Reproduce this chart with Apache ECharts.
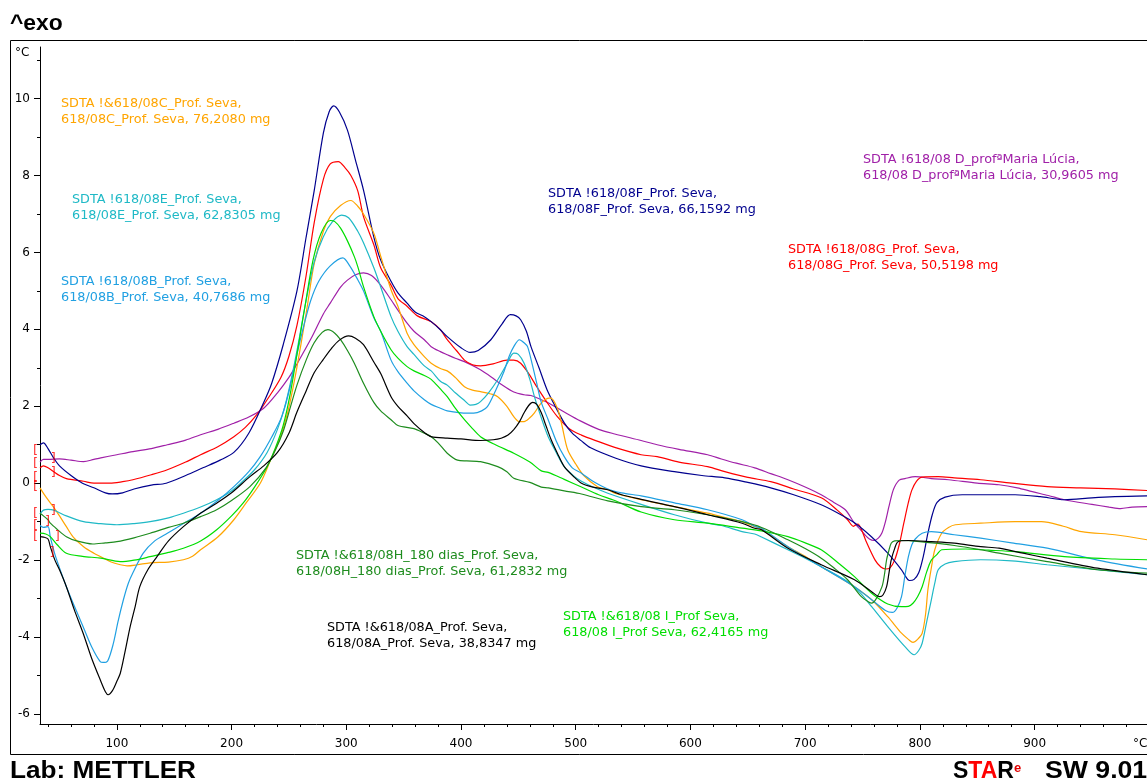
<!DOCTYPE html>
<html><head><meta charset="utf-8">
<script src="https://cdn.jsdelivr.net/npm/echarts@6/dist/echarts.min.js"></script>
<style>html,body{margin:0;padding:0;background:#fff;}#c{width:1147px;height:782px;}</style>
</head><body><div id="c"></div>
<script>
// ---- tick values ----
const xMajorTicks = [100, 200, 300, 400, 500, 600, 700, 800, 900];
const xMinorTicks = [40, 60, 80, 120, 140, 160, 180, 220, 240, 260, 280, 320, 340, 360, 380, 420, 440, 460, 480, 520, 540, 560, 580, 620, 640, 660, 680, 720, 740, 760, 780, 820, 840, 860, 880, 920, 940, 960, 980];
const yMajorTicks = [-6, -4, -2, 0, 2, 4, 6, 8, 10];
const yMinorTicks = [-5, -3, -1, 1, 3, 5, 7, 9, 11];

// ---- curves: [temperature °C, signal °C] ----
const curveF = [[33,1.0],[36,1.05],[40,0.9],[45,0.65],[50,0.45],[60,0.2],[70,0.0],[80,-0.12],[90,-0.25],[96,-0.28],[105,-0.25],[115,-0.15],[130,-0.05],[143,0.0],[160,0.2],[175,0.4],[190,0.6],[202,0.8],[215,1.3],[228,2.1],[235,2.6],[245,3.6],[257,5.0],[265,6.4],[272,7.6],[280,9.1],[285,9.65],[289,9.81],[294,9.65],[301,9.18],[308,8.4],[315,7.62],[324,6.4],[330,5.8],[339,5.25],[345,4.95],[353,4.68],[360,4.45],[368,4.33],[374,4.2],[382,3.99],[388,3.81],[400,3.52],[408,3.40],[415,3.45],[426,3.73],[436,4.15],[443,4.38],[448,4.35],[452,4.25],[457,3.95],[461,3.55],[468,3.0],[475,2.43],[483,1.95],[490,1.57],[497,1.3],[505,1.1],[513,0.92],[535,0.65],[557,0.45],[586,0.30],[610,0.2],[630,0.14],[650,0.02],[670,-0.12],[690,-0.3],[714,-0.56],[730,-0.8],[743,-1.03],[758,-1.4],[772,-1.82],[784,-2.25],[791,-2.53],[795,-2.5],[799,-2.33],[803,-1.9],[807,-1.3],[811,-0.8],[815,-0.5],[822,-0.36],[837,-0.30],[860,-0.3],[883,-0.3],[905,-0.35],[926,-0.43],[950,-0.38],[970,-0.35],[998,-0.33]];
const curveG = [[33,0.4],[36,0.45],[40,0.4],[45,0.3],[50,0.2],[56,0.12],[71,0.05],[80,0.0],[94,0.0],[105,0.04],[114,0.09],[130,0.22],[144,0.35],[160,0.55],[173,0.74],[188,0.95],[202,1.21],[212,1.45],[222,1.78],[231,2.17],[243,2.75],[250,3.3],[257,4.1],[265,5.4],[272,6.77],[280,7.9],[286,8.3],[293,8.36],[299,8.2],[304,8.0],[310,7.6],[315,6.93],[324,6.2],[330,5.6],[339,5.15],[345,4.8],[353,4.6],[362,4.35],[374,4.2],[382,3.99],[388,3.73],[396,3.45],[403,3.2],[410,3.08],[417,3.05],[428,3.1],[440,3.2],[446,3.2],[452,3.12],[459,2.85],[466,2.51],[475,2.1],[484,1.73],[495,1.4],[505,1.25],[520,1.08],[534,0.93],[557,0.74],[571,0.69],[590,0.55],[615,0.43],[630,0.3],[650,0.15],[670,0.04],[690,-0.15],[714,-0.38],[728,-0.7],[737,-0.95],[742,-1.12],[746,-1.06],[749,-1.2],[753,-1.5],[761,-2.0],[766,-2.18],[770,-2.23],[774,-2.2],[778,-2.0],[782,-1.6],[786,-1.04],[790,-0.5],[793,-0.18],[797,0.05],[802,0.16],[816,0.17],[830,0.14],[853,0.09],[880,0.0],[911,-0.09],[940,-0.12],[970,-0.15],[998,-0.19]];
const curveD = [[33,0.55],[36,0.62],[40,0.62],[50,0.63],[60,0.6],[71,0.56],[80,0.62],[86,0.66],[100,0.74],[114,0.82],[130,0.9],[144,1.0],[160,1.12],[173,1.26],[188,1.4],[202,1.56],[215,1.72],[228,1.95],[240,2.35],[250,2.75],[257,3.1],[270,3.8],[280,4.4],[286,4.68],[295,5.1],[301,5.28],[308,5.42],[315,5.47],[322,5.4],[330,5.15],[339,4.77],[345,4.5],[353,4.16],[359,3.95],[368,3.73],[374,3.55],[382,3.42],[388,3.34],[395,3.25],[403,3.16],[415,2.98],[426,2.77],[436,2.55],[446,2.37],[455,2.3],[461,2.28],[470,2.17],[476,2.09],[490,1.85],[504,1.62],[520,1.4],[534,1.28],[557,1.11],[571,1.0],[590,0.88],[615,0.74],[627,0.63],[640,0.52],[656,0.4],[670,0.25],[685,0.09],[700,-0.1],[714,-0.30],[725,-0.5],[735,-0.69],[743,-1.04],[748,-1.2],[752,-1.34],[756,-1.45],[760,-1.49],[764,-1.42],[767,-1.29],[770,-1.0],[773,-0.61],[776,-0.25],[778,-0.09],[782,0.08],[787,0.12],[796,0.17],[810,0.12],[825,0.09],[850,0.0],[869,-0.04],[885,-0.12],[898,-0.22],[912,-0.32],[926,-0.43],[950,-0.55],[965,-0.62],[975,-0.66],[985,-0.62],[998,-0.61]];
const curveC = [[33,-0.12],[38,-0.35],[44.5,-0.61],[50,-0.85],[56,-1.13],[62,-1.4],[71,-1.65],[80,-1.82],[86,-1.91],[95,-2.05],[103,-2.12],[109,-2.15],[118,-2.12],[129,-2.07],[145,-2.05],[158,-1.99],[166,-1.9],[173,-1.73],[188,-1.4],[202,-0.95],[213,-0.5],[225,0.0],[234,0.6],[242,1.15],[249,1.85],[255,2.7],[261,3.7],[266,4.6],[272,5.7],[280,6.55],[286,6.93],[295,7.22],[304,7.35],[310,7.2],[315,7.0],[324,6.5],[330,5.9],[339,5.03],[345,4.6],[353,3.9],[359,3.6],[368,3.29],[374,3.12],[382,2.98],[388,2.92],[395,2.75],[403,2.51],[410,2.42],[417,2.38],[426,2.32],[432,2.25],[440,2.0],[446,1.73],[451,1.6],[455,1.6],[460,1.7],[464,1.83],[469,2.05],[473,2.17],[478,2.22],[484,1.95],[488,1.5],[493,0.87],[500,0.5],[507,0.2],[519,-0.09],[528,-0.17],[534,-0.26],[557,-0.43],[586,-0.61],[615,-0.78],[627,-0.87],[645,-1.0],[656,-1.13],[662,-1.2],[685,-1.65],[700,-1.9],[714,-2.17],[730,-2.45],[743,-2.69],[758,-3.03],[772,-3.47],[784,-3.9],[790,-4.06],[794,-4.14],[798,-4.06],[802,-3.9],[805,-3.4],[807,-2.77],[810,-2.2],[813,-1.73],[819,-1.3],[825,-1.15],[831,-1.08],[853,-1.04],[883,-1.0],[906,-1.0],[925,-1.12],[941,-1.26],[970,-1.34],[998,-1.47]];
const curveE = [[33,-0.8],[36,-0.7],[40,-0.68],[45,-0.7],[56,-0.85],[71,-1.0],[85,-1.05],[100,-1.08],[115,-1.05],[129,-1.0],[145,-0.9],[158,-0.78],[173,-0.62],[187,-0.43],[200,-0.2],[208,0.0],[220,0.35],[231,0.8],[240,1.4],[246,1.95],[252,2.7],[258,3.6],[264,4.6],[272,5.75],[280,6.41],[288,6.8],[296,6.97],[302,6.9],[310,6.55],[315,6.25],[324,5.6],[330,5.1],[339,4.33],[345,3.95],[353,3.55],[359,3.35],[368,3.05],[374,2.92],[382,2.65],[388,2.55],[395,2.35],[403,2.15],[408,2.03],[413,2.05],[417,2.12],[424,2.35],[432,2.69],[440,3.1],[446,3.38],[450,3.35],[455,3.12],[460,2.7],[464,2.25],[470,1.7],[476,1.21],[483,0.8],[490,0.43],[499,0.17],[505,0.05],[515,-0.1],[528,-0.26],[557,-0.55],[586,-0.82],[615,-1.04],[627,-1.1],[645,-1.26],[656,-1.32],[662,-1.4],[685,-1.73],[700,-1.95],[714,-2.17],[737,-2.56],[748,-2.85],[758,-3.21],[772,-3.73],[787,-4.25],[795,-4.46],[799,-4.35],[802,-4.16],[806,-3.6],[810,-3.03],[813,-2.6],[816,-2.25],[822,-2.1],[830,-2.04],[853,-1.99],[880,-2.02],[911,-2.12],[955,-2.25],[998,-2.38]];
const curveB = [[33,-1.1],[36,-1.15],[40,-1.13],[42,-1.4],[46,-1.85],[50,-2.2],[56,-2.69],[63,-3.2],[70.6,-3.73],[78,-4.25],[85.5,-4.64],[88,-4.66],[92,-4.62],[97,-4.16],[101,-3.6],[105.7,-3.03],[110,-2.6],[114,-2.33],[123,-1.82],[133,-1.5],[144,-1.3],[158,-1.05],[173,-0.78],[188,-0.45],[202,-0.09],[215,0.3],[225,0.69],[235,1.2],[244,1.75],[251,2.5],[257,3.35],[263,4.1],[269,4.75],[276,5.25],[286,5.65],[297,5.86],[303,5.65],[310,5.29],[315,5.0],[324,4.3],[330,3.95],[339,3.2],[345,2.9],[353,2.6],[359,2.4],[368,2.17],[374,2.05],[382,1.95],[388,1.88],[400,1.83],[411,1.82],[418,1.88],[423,1.99],[430,2.4],[437,2.87],[442,3.3],[446,3.55],[451,3.73],[455,3.65],[458,3.55],[462,3.1],[466,2.6],[470,2.1],[476,1.65],[483,1.1],[490,0.69],[497,0.4],[505,0.26],[515,0.05],[528,-0.15],[540,-0.25],[557,-0.33],[586,-0.51],[615,-0.69],[645,-0.95],[656,-1.12],[662,-1.17],[685,-1.65],[714,-2.17],[743,-2.69],[758,-3.03],[770,-3.31],[776,-3.36],[780,-3.25],[784,-2.95],[787,-2.4],[790,-1.91],[793,-1.6],[796,-1.45],[802,-1.3],[810,-1.26],[830,-1.34],[853,-1.43],[880,-1.55],[911,-1.69],[955,-2.0],[998,-2.23]];
const curveA = [[33,-1.39],[36,-1.4],[40,-1.45],[42,-1.65],[46,-2.0],[50,-2.25],[56,-2.69],[63,-3.3],[70.6,-3.9],[78,-4.55],[85.5,-5.11],[90,-5.42],[92.5,-5.5],[96,-5.4],[100,-5.15],[103,-4.94],[107,-4.4],[111.6,-3.73],[116,-3.2],[120,-2.69],[127,-2.25],[135,-1.91],[145,-1.5],[158,-1.13],[172,-0.8],[187,-0.52],[200,-0.25],[216,0.17],[228,0.45],[240,0.8],[250,1.3],[257,1.85],[265,2.4],[272,2.87],[280,3.22],[287,3.5],[294,3.72],[302,3.83],[308,3.77],[315,3.6],[324,3.15],[330,2.85],[339,2.25],[345,2.0],[353,1.75],[359,1.55],[368,1.32],[374,1.21],[388,1.17],[400,1.15],[417,1.11],[428,1.13],[435,1.17],[441,1.25],[446,1.39],[451,1.6],[455,1.83],[459,2.02],[462.5,2.1],[466,2.05],[470,1.83],[474,1.5],[478.6,1.13],[484,0.78],[490,0.43],[499,0.15],[505,0.0],[515,-0.1],[528,-0.17],[540,-0.3],[557,-0.42],[586,-0.61],[615,-0.82],[645,-1.04],[656,-1.17],[662,-1.21],[685,-1.69],[714,-2.12],[743,-2.51],[758,-2.82],[765,-2.95],[768,-2.9],[771,-2.69],[773,-2.35],[775,-2.0],[778,-1.7],[781,-1.52],[790,-1.49],[810,-1.52],[830,-1.56],[853,-1.65],[869,-1.69],[890,-1.82],[911,-1.95],[955,-2.21],[998,-2.38]];
const curveH = [[33,-0.78],[36,-0.85],[40,-0.95],[42,-1.04],[48,-1.2],[56,-1.39],[65,-1.5],[79,-1.58],[90,-1.55],[100,-1.52],[115,-1.42],[129,-1.3],[145,-1.15],[158,-1.04],[173,-0.87],[187,-0.69],[200,-0.45],[216,-0.09],[230,0.4],[238,0.85],[245,1.35],[251,1.95],[257,2.55],[265,3.2],[272,3.65],[279,3.92],[284,3.99],[290,3.9],[295,3.73],[301,3.45],[307,3.12],[315,2.6],[324,2.1],[330,1.88],[339,1.65],[345,1.5],[359,1.42],[368,1.3],[374,1.21],[380,1.05],[388,0.78],[397,0.6],[405,0.58],[417,0.56],[432,0.43],[440,0.3],[446,0.13],[460,0.02],[470,-0.1],[476,-0.12],[490,-0.2],[505,-0.28],[528,-0.46],[557,-0.61],[586,-0.69],[615,-0.82],[645,-1.0],[662,-1.15],[685,-1.47],[700,-1.7],[714,-1.95],[725,-2.2],[737,-2.51],[749,-2.95],[755,-3.08],[758,-3.12],[762,-3.0],[767,-2.69],[769,-2.4],[771,-1.99],[773,-1.75],[775,-1.56],[778,-1.5],[784,-1.49],[800,-1.52],[830,-1.62],[853,-1.73],[869,-1.82],[911,-2.04],[955,-2.25],[998,-2.34]];
const curveI = [[33,-1.3],[38,-1.32],[42,-1.39],[48,-1.6],[56,-1.82],[70,-1.9],[86,-1.95],[103,-2.04],[115,-2.0],[129,-1.91],[145,-1.8],[158,-1.69],[173,-1.5],[187,-1.21],[200,-0.85],[210,-0.52],[220,-0.1],[231,0.43],[238,0.9],[245,1.5],[251,2.3],[257,3.35],[264,4.6],[271,5.8],[278,6.5],[286,6.83],[290,6.8],[295,6.63],[301,6.3],[307,5.89],[310,5.63],[315,5.11],[324,4.33],[330,3.95],[339,3.47],[345,3.25],[353,3.03],[359,2.92],[368,2.8],[374,2.7],[382,2.45],[388,2.25],[395,1.95],[403,1.65],[410,1.42],[417,1.21],[430,1.0],[446,0.78],[460,0.55],[470,0.32],[476,0.28],[490,0.1],[505,-0.1],[520,-0.3],[534,-0.45],[557,-0.75],[586,-0.95],[615,-1.04],[645,-1.17],[662,-1.24],[685,-1.39],[700,-1.55],[714,-1.73],[730,-2.1],[743,-2.43],[758,-2.86],[772,-3.14],[784,-3.21],[790,-3.2],[794,-3.12],[798,-2.95],[802,-2.69],[806,-2.3],[810,-2.0],[815,-1.85],[819,-1.73],[840,-1.71],[860,-1.74],[883,-1.78],[926,-1.91],[970,-1.97],[998,-1.99]];

// evaluation-limit bracket marks
const leftBrackets = [[29,0.85],[29,0.5],[29,0.15],[29,-0.1],[29,-0.8],[29,-1.1],[29,-1.4]];
const rightBrackets = [[44.5,0.65],[44.5,0.27],[44.5,-0.72],[39.5,-1.0],[48,-1.4],[43.5,-1.8]];

// curve labels
const labelTexts = {
  C: 'SDTA !&618/08C_Prof. Seva,\n618/08C_Prof. Seva, 76,2080 mg',
  E: 'SDTA !618/08E_Prof. Seva,\n618/08E_Prof. Seva, 62,8305 mg',
  B: 'SDTA !618/08B_Prof. Seva,\n618/08B_Prof. Seva, 40,7686 mg',
  F: 'SDTA !618/08F_Prof. Seva,\n618/08F_Prof. Seva, 66,1592 mg',
  D: 'SDTA !618/08 D_prof\u00aaMaria L\u00facia,\n618/08 D_prof\u00aaMaria L\u00facia, 30,9605 mg',
  G: 'SDTA !618/08G_Prof. Seva,\n618/08G_Prof. Seva, 50,5198 mg',
  H: 'SDTA !&618/08H_180 dias_Prof. Seva,\n618/08H_180 dias_Prof. Seva, 61,2832 mg',
  A: 'SDTA !&618/08A_Prof. Seva,\n618/08A_Prof. Seva, 38,8347 mg',
  I: 'SDTA !&618/08 I_Prof Seva,\n618/08 I_Prof Seva, 62,4165 mg'
};

const colors = {C:'#FFA500', E:'#1FB9C6', B:'#20A0E2', F:'#00008E', D:'#A020A8', G:'#FF0000', H:'#1E8C1E', A:'#000000', I:'#00DE00'};
const labelPos = {C:[61,95], E:[72,191], B:[61,273], F:[548,185], D:[863,151], G:[788,241], H:[296,547], A:[327,619], I:[563,608]};

const FONT = '"DejaVu Sans", Verdana, sans-serif';
const curves = {F:curveF, G:curveG, D:curveD, C:curveC, E:curveE, B:curveB, A:curveA, H:curveH, I:curveI};
const order = ['D','G','F','C','E','B','I','H','A'];

const series = order.map(k => ({
  type:'line', name:k, data:curves[k], showSymbol:false, smooth:0.3,
  xAxisIndex:0, yAxisIndex:0,
  lineStyle:{color:colors[k], width:1.2}, itemStyle:{color:colors[k]}, z:2
}));
function bracketSeries(data, ch){
  return {type:'scatter', data:data, symbolSize:1, clip:false, xAxisIndex:0, yAxisIndex:0,
    itemStyle:{color:'transparent'}, silent:true, z:5,
    label:{show:true, position:'inside', formatter:ch, color:'#FF0000', fontSize:13, fontFamily:FONT}};
}
series.push(bracketSeries(leftBrackets,'['));
series.push(bracketSeries(rightBrackets,']'));

const BOLD = '"Liberation Sans", Arial, sans-serif';
const graphics = [
  {type:'rect', shape:{x:10.5, y:40.5, width:1200, height:714}, style:{fill:'none', stroke:'#000', lineWidth:1}, z:-1},
  {type:'text', x:10, y:23.5, scaleX:1.04, style:{text:'^exo', fill:'#000', font:'bold 22px ' + BOLD, verticalAlign:'middle'}},
  {type:'text', x:10, y:771.5, scaleX:1.09, style:{text:'Lab: METTLER', fill:'#000', font:'bold 24px ' + BOLD, verticalAlign:'middle'}},
  {type:'text', x:953, y:771.5, style:{text:'{k|S}{r|TA}{k|R}', verticalAlign:'middle',
     rich:{k:{fill:'#000', font:'bold 23px ' + BOLD}, r:{fill:'#FF0000', font:'bold 23px ' + BOLD}}}},
  {type:'text', x:1014, y:768, style:{text:'e', fill:'#E00000', font:'bold 13px ' + BOLD, verticalAlign:'middle'}},
  {type:'text', x:1045, y:771.5, scaleX:1.11, style:{text:'SW 9.01', fill:'#000', font:'bold 24px ' + BOLD, verticalAlign:'middle'}},
  {type:'text', x:15, y:53, style:{text:'\u00b0C', fill:'#000', font:'12px ' + FONT, verticalAlign:'middle'}},
  {type:'text', x:1133, y:744, style:{text:'\u00b0C', fill:'#000', font:'12px ' + FONT, verticalAlign:'middle'}}
];
Object.keys(labelTexts).forEach(k => {
  graphics.push({type:'text', x:labelPos[k][0], y:labelPos[k][1],
    style:{text:labelTexts[k], fill:colors[k], font:'12.8px ' + FONT, lineHeight:16.5, verticalAlign:'top'}, z:10});
});

const axisCommon = {type:'value', min:33, max:998, splitLine:{show:false}};
const chart = echarts.init(document.getElementById('c'));
chart.setOption({
  animation:false,
  backgroundColor:'#fff',
  grid:{left:40, right:0, top:47, bottom:58},
  xAxis:[
    Object.assign({}, axisCommon, {position:'bottom',
      axisLine:{show:true, onZero:false, lineStyle:{color:'#000', width:1}},
      axisTick:{show:true, length:6, customValues:xMajorTicks, lineStyle:{color:'#000'}},
      axisLabel:{show:true, customValues:xMajorTicks, color:'#000', fontSize:12, fontFamily:FONT, margin:14}}),
    Object.assign({}, axisCommon, {position:'bottom', offset:0,
      axisLine:{show:false, onZero:false},
      axisTick:{show:true, length:3, customValues:xMinorTicks, lineStyle:{color:'#000'}},
      axisLabel:{show:false}})
  ],
  yAxis:[
    {type:'value', min:-6.26, max:11.34, position:'left', splitLine:{show:false},
      axisLine:{show:true, onZero:false, lineStyle:{color:'#000', width:1}},
      axisTick:{show:true, length:6, customValues:yMajorTicks, lineStyle:{color:'#000'}},
      axisLabel:{show:true, customValues:yMajorTicks, color:'#000', fontSize:12, fontFamily:FONT, margin:10}},
    {type:'value', min:-6.26, max:11.34, position:'left', offset:0, splitLine:{show:false},
      axisLine:{show:false, onZero:false},
      axisTick:{show:true, length:3, customValues:yMinorTicks, lineStyle:{color:'#000'}},
      axisLabel:{show:false}}
  ],
  series:series,
  graphic:graphics
});
</script></body></html>
